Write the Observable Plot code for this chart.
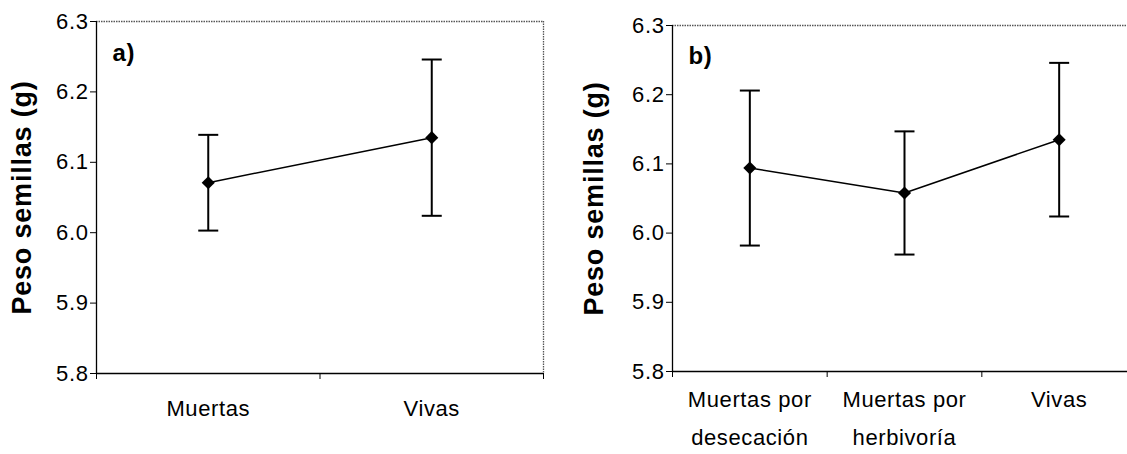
<!DOCTYPE html>
<html>
<head>
<meta charset="utf-8">
<script src="https://cdn.jsdelivr.net/npm/d3@7"></script>
<script src="https://cdn.jsdelivr.net/npm/@observablehq/plot@0.6"></script>
<style>
  body { margin: 0; background: #fff; }
  #fig { position: relative; width: 1127px; height: 454px; overflow: hidden; background: #fff; }
  #fig svg { position: absolute; top: 0; }
  #fig svg text { letter-spacing: 0.6px; }
  #fig svg g.ytitle text { letter-spacing: 0.8px; }
</style>
</head>
<body>
<div id="fig"></div>
<script>
// Panel a: seed weight of dead vs. live plants (mean ± error)
const catsA = ["Muertas", "Vivas"];
const meanA = [6.071, 6.135];
const errA = [0.068, 0.111];

// Panel b: dead plants split by cause of death
const catsB = ["Muertas por\ndesecación", "Muertas por\nherbivoría", "Vivas"];
const meanB = [6.094, 6.058, 6.135];
const errB = [0.112, 0.089, 0.111];

const yTicks = [5.8, 5.9, 6.0, 6.1, 6.2, 6.3];
const yTitle = "Peso semillas (g)";
const panelLabels = ["a)", "b)"];

const FONT = "'Liberation Sans', Arial, sans-serif";

// horizontal bar used as the error-bar cap
const capSymbol = {
  draw(ctx, size) {
    const w = Math.sqrt(size / Math.PI);
    ctx.moveTo(-w, 0);
    ctx.lineTo(w, 0);
  }
};

function panel(cats, means, errs, label, o) {
  const n = cats.length;
  const rows = cats.map((c, i) => ({
    pos: i + 0.5, mean: means[i], lo: means[i] - errs[i], hi: means[i] + errs[i]
  }));
  const yMin = yTicks[0], yMax = yTicks[yTicks.length - 1];
  const chart = Plot.plot({
    width: o.width,
    height: 454,
    marginLeft: o.marginLeft,
    marginRight: o.marginRight,
    marginTop: o.marginTop,
    marginBottom: o.marginBottom,
    x: {domain: [0, n], axis: null},
    y: {domain: [yMin, yMax], axis: null},
    style: {fontFamily: FONT, color: "#000", background: "transparent", overflow: "visible"},
    marks: [
      // light dotted frame on top and right
      Plot.ruleY([yMax], {stroke: "#555", strokeWidth: 1.3, strokeDasharray: "1.5,1"}),
      Plot.ruleX([n], {stroke: "#555", strokeWidth: 1.3, strokeDasharray: "1.5,1"}),
      // solid axis lines
      Plot.ruleX([0], {stroke: "#000", strokeWidth: 1.3}),
      Plot.ruleY([yMin], {stroke: "#000", strokeWidth: 1.6}),
      Plot.axisY({ticks: yTicks, tickFormat: d3.format(".1f"), tickSize: 6, tickPadding: 2,
                  fontSize: 22, label: null}),
      // ticks between categories
      Plot.axisX({ticks: d3.range(n + 1), tickSize: 6, tickFormat: () => "", label: null}),
      // category names centred in each slot
      Plot.axisX({ticks: rows.map(d => d.pos), tickSize: 0, tickPadding: o.labelPad,
                  tickFormat: d => cats[Math.floor(d)], fontSize: 22, lineHeight: o.lineHeight,
                  label: null}),
      // error bars
      Plot.ruleX(rows, {x: "pos", y1: "lo", y2: "hi", stroke: "#000", strokeWidth: 2}),
      Plot.dot(rows, {x: "pos", y: "lo", symbol: capSymbol, r: 10, fill: "none", stroke: "#000", strokeWidth: 2}),
      Plot.dot(rows, {x: "pos", y: "hi", symbol: capSymbol, r: 10, fill: "none", stroke: "#000", strokeWidth: 2}),
      // means joined by a line
      Plot.line(rows, {x: "pos", y: "mean", stroke: "#000", strokeWidth: 1.5}),
      Plot.dot(rows, {x: "pos", y: "mean", symbol: "diamond2", r: 5.9, fill: "#000", stroke: "none"}),
      // panel letter
      Plot.text([label], {frameAnchor: "top-left", dx: 16, dy: o.labelDy, lineAnchor: "bottom",
                          textAnchor: "start", fontSize: 24, fontWeight: "bold"}),
      // y-axis title
      Plot.text([yTitle], {frameAnchor: "left", rotate: -90, dx: o.titleDx, textAnchor: "middle",
                           lineAnchor: "middle", fontSize: 27, fontWeight: "bold", className: "ytitle"})
    ]
  });
  chart.style.left = o.left + "px";
  return chart;
}

const fig = document.getElementById("fig");
fig.appendChild(panel(catsA, meanA, errA, panelLabels[0], {
  left: 0, width: 560, marginLeft: 96, marginRight: 17, marginTop: 21, marginBottom: 81,
  labelPad: 24, lineHeight: 1.2, labelDy: 39, titleDx: -74
}));
fig.appendChild(panel(catsB, meanB, errB, panelLabels[1], {
  left: 560, width: 600, marginLeft: 112, marginRight: 24, marginTop: 25, marginBottom: 83,
  labelPad: 8, lineHeight: 1.75, labelDy: 38, titleDx: -78
}));
</script>
</body>
</html>
